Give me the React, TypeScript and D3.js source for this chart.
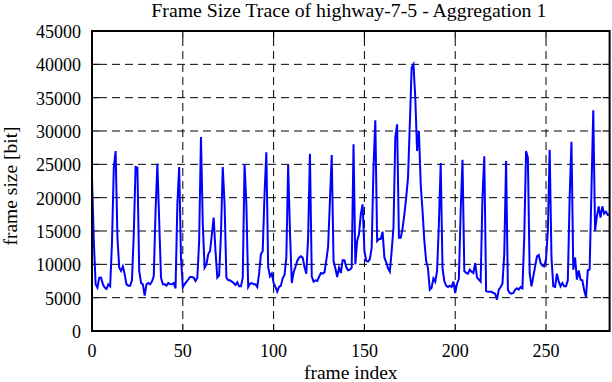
import React from "react";
import * as d3 from "d3";

const frameSizes: number[] = [
  22800, 13500, 7000, 6500, 8000, 8000, 7000, 6500, 6300, 7000,
  6700, 13200, 24500, 27000, 14000, 9500, 9000, 9700, 8500, 7000,
  6800, 6800, 7600, 14500, 24600, 24500, 9000, 7200, 7000, 5300,
  7000, 7200, 7000, 7400, 8200, 18000, 25100, 16500, 8000, 7000,
  7000, 6800, 7200, 7000, 7000, 7200, 6400, 19000, 24600, 11000,
  6600, 7000, 7400, 7700, 8100, 8100, 8000, 7500, 8000, 13500,
  29100, 16000, 9500, 10000, 11500, 12000, 14500, 17000, 12000, 8000,
  8300, 14500, 24600, 19000, 8000, 7600, 7600, 7400, 7200, 6900,
  7300, 6700, 6700, 8000, 25000, 19000, 6600, 7100, 7200, 7000,
  7000, 6600, 8600, 11500, 12000, 20500, 26800, 9600, 8200, 8600,
  7200, 6600, 5900, 6600, 6800, 7900, 8400, 11000, 24900, 15000,
  7200, 8800, 9600, 10500, 11000, 11200, 11000, 9600, 8600, 14000,
  26600, 8200, 7400, 7600, 7500, 8100, 8700, 8600, 8800, 10600,
  12600, 19500, 26400, 10500, 9400, 8100, 9500, 8700, 10600, 10600,
  9600, 9100, 9200, 9500, 28000, 10000, 13500, 14500, 17500, 19000,
  12000, 10500, 10400, 10800, 12500, 24500, 31600, 13500, 13800, 13800,
  14900, 11000, 10300, 9400, 8900, 12000, 15500, 29000, 31000, 14000,
  14000, 15400, 17500, 20000, 23000, 31000, 39500, 40000, 35000, 27000,
  30000, 22000, 18000, 13500, 10500, 9400, 6200, 6500, 7900, 7400,
  9000, 16000, 25200, 9400, 7500, 6800, 6600, 6800, 6600, 7400,
  5700, 7100, 7800, 18000, 25700, 9000, 8700, 8600, 9200, 8900,
  8700, 10200, 8000, 7700, 7400, 20000, 26200, 6000, 5900, 5900,
  5900, 5700, 5600, 4700, 6200, 6600, 7100, 11500, 25500, 6200,
  5700, 5600, 5700, 6200, 6400, 6200, 6600, 6400, 14000, 27000,
  26000, 8600, 6700, 8200, 9700, 11200, 11400, 10200, 9800, 9700,
  10800, 15000, 27200, 11000, 6700, 6600, 8600, 7400, 6700, 7200,
  6700, 6700, 7600, 20000, 28400, 9200, 11000, 7700, 9100, 7700,
  7600, 6100, 5100, 9100, 9200, 21000, 33100, 15000, 17200, 18700,
  17000, 18700, 17600, 17900, 17400, 17500,
];

const xTicks: number[] = [0, 50, 100, 150, 200, 250];
const yTicks: number[] = [0, 5000, 10000, 15000, 20000, 25000, 30000, 35000, 40000, 45000];
const titleText = "Frame Size Trace of highway-7-5 - Aggregation 1";
const xLabel = "frame index";
const yLabel = "frame size [bit]";

const W = 612;
const H = 382;
const L = 92;
const R = 609.6;
const T = 31;
const B = 331;
const FONT = "'Liberation Serif', 'DejaVu Serif', Times, serif";

export default function App() {
  const x = d3.scaleLinear().domain([0, 285]).range([L, R]);
  const y = d3.scaleLinear().domain([0, 45000]).range([B, T]);
  const line = d3
    .line<number>()
    .x((_, i) => x(i))
    .y((d) => y(d));
  const path = line(frameSizes) || "";
  const tick = 7;

  return (
    <svg
      width={W}
      height={H}
      style={{ position: "absolute", left: 0, top: 0, background: "#fff" }}
      fontFamily={FONT}
    >
      <rect x={0} y={0} width={W} height={H} fill="#fff" />
      {yTicks
        .filter((t) => t > 0 && t < 45000)
        .map((t) => (
          <line
            key={"gy" + t}
            x1={L + tick}
            x2={R - tick}
            y1={y(t)}
            y2={y(t)}
            stroke="#000"
            strokeWidth={1}
            strokeDasharray="8,5"
          />
        ))}
      {xTicks
        .filter((t) => t > 0)
        .map((t) => (
          <line
            key={"gx" + t}
            x1={x(t)}
            x2={x(t)}
            y1={T + tick}
            y2={B - tick}
            stroke="#000"
            strokeWidth={1}
            strokeDasharray="8,5"
          />
        ))}
      {yTicks.map((t) => (
        <g key={"ty" + t}>
          <line x1={L} x2={L + tick} y1={y(t)} y2={y(t)} stroke="#000" strokeWidth={1.2} />
          <line x1={R - tick} x2={R} y1={y(t)} y2={y(t)} stroke="#000" strokeWidth={1.2} />
          <text x={81} y={y(t) + 7} fontSize={18} textAnchor="end" fill="#000">
            {t}
          </text>
        </g>
      ))}
      {xTicks.map((t) => (
        <g key={"tx" + t}>
          <line x1={x(t)} x2={x(t)} y1={B} y2={B - tick} stroke="#000" strokeWidth={1.2} />
          <line x1={x(t)} x2={x(t)} y1={T} y2={T + tick} stroke="#000" strokeWidth={1.2} />
          <text x={x(t)} y={357} fontSize={18} textAnchor="middle" fill="#000">
            {t}
          </text>
        </g>
      ))}
      <path d={path} fill="none" stroke="#0000ff" strokeWidth={2} strokeLinejoin="miter" />
      <rect x={L} y={T} width={R - L} height={B - T} fill="none" stroke="#000" strokeWidth={2} />
      <text x={(L + R) / 2 - 2} y={17} fontSize={19.8} textAnchor="middle" fill="#000">
        {titleText}
      </text>
      <text x={(L + R) / 2} y={379} fontSize={19.5} textAnchor="middle" fill="#000">
        {xLabel}
      </text>
      <text
        transform={`translate(17, ${(T + B) / 2 + 5}) rotate(-90)`}
        fontSize={19.5}
        textAnchor="middle"
        fill="#000"
      >
        {yLabel}
      </text>
    </svg>
  );
}
